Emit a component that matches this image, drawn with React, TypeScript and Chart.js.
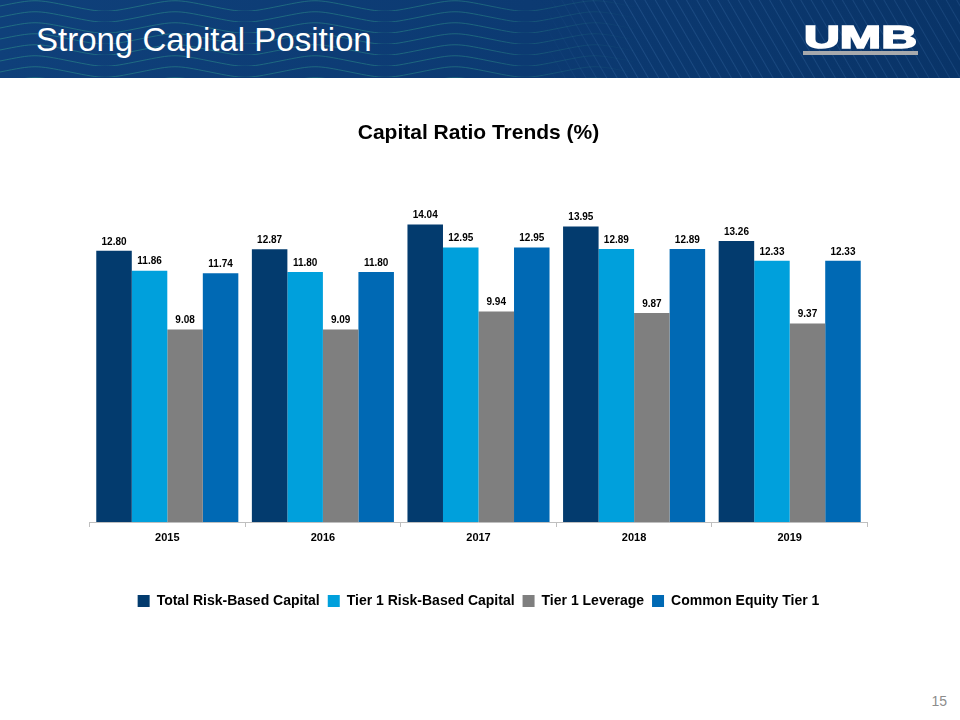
import React, { useEffect, useRef } from "react";
import { Chart, registerables } from "chart.js";

Chart.register(...registerables);

const categories = ["2015", "2016", "2017", "2018", "2019"];
const totalRiskBased = [12.8, 12.87, 14.04, 13.95, 13.26];
const tier1RiskBased = [11.86, 11.8, 12.95, 12.89, 12.33];
const tier1Leverage = [9.08, 9.09, 9.94, 9.87, 9.37];
const commonEquityTier1 = [11.74, 11.8, 12.95, 12.89, 12.33];
const seriesNames = [
  "Total Risk-Based Capital",
  "Tier 1 Risk-Based Capital",
  "Tier 1 Leverage",
  "Common Equity Tier 1",
];
const seriesColors = ["#033b6e", "#00a0dc", "#7f7f7f", "#0069b4"];
const chartTitle = "Capital Ratio Trends (%)";
const slideTitle = "Strong Capital Position";
const pageNumber = "15";

const FONT = "Arial, 'Liberation Sans', sans-serif";

const dataLabelPlugin = {
  id: "dataLabels",
  afterDatasetsDraw(chart: any) {
    const ctx = chart.ctx;
    ctx.save();
    ctx.font = `bold 10px ${FONT}`;
    ctx.fillStyle = "#000000";
    ctx.textAlign = "center";
    ctx.textBaseline = "bottom";
    chart.data.datasets.forEach((ds: any, di: number) => {
      const meta = chart.getDatasetMeta(di);
      meta.data.forEach((el: any, i: number) => {
        const v = ds.data[i] as number;
        ctx.fillText(v.toFixed(2), el.x, el.y - 4);
      });
    });
    ctx.restore();
  },
};

function CapitalChart() {
  const ref = useRef<HTMLCanvasElement | null>(null);
  useEffect(() => {
    if (!ref.current) return;
    const values = [totalRiskBased, tier1RiskBased, tier1Leverage, commonEquityTier1];
    const chart = new Chart(ref.current, {
      type: "bar",
      data: {
        labels: categories,
        datasets: values.map((d, i) => ({
          label: seriesNames[i],
          data: d,
          backgroundColor: seriesColors[i],
          borderWidth: 0,
          categoryPercentage: 0.913,
          barPercentage: 1.0,
        })),
      },
      options: {
        animation: false,
        responsive: false,
        maintainAspectRatio: false,
        layout: { padding: { left: 89.5, right: 92.5, top: 0, bottom: 12 } },
        plugins: {
          title: {
            display: true,
            text: chartTitle,
            color: "#000000",
            font: { family: FONT, size: 21, weight: "bold", lineHeight: 1.2 },
            padding: { top: 30.4, bottom: 37.4 },
          },
          legend: {
            display: true,
            position: "bottom",
            labels: {
              boxWidth: 12,
              boxHeight: 12,
              padding: 8,
              color: "#000000",
              font: { family: FONT, size: 14, weight: "bold" },
            },
          },
          tooltip: { enabled: false },
        },
        scales: {
          x: {
            offset: true,
            grid: {
              display: true,
              offset: true,
              drawOnChartArea: false,
              drawTicks: true,
              tickLength: 5,
              color: "#bfbfbf",
            },
            border: { display: true, color: "#bfbfbf", width: 1 },
            ticks: {
              color: "#000000",
              padding: 4,
              font: { family: FONT, size: 11, weight: "bold" },
            },
            afterFit: (scale: any) => {
              scale.height = 64;
            },
          },
          y: {
            display: false,
            min: 0,
            max: 16,
          },
        },
      },
      plugins: [dataLabelPlugin],
    });
    return () => chart.destroy();
  }, []);
  return (
    <canvas
      ref={ref}
      width={960}
      height={540}
      style={{ position: "absolute", left: 0, top: 90, width: 960, height: 540 }}
    />
  );
}

function Header() {
  return (
    <div
      style={{
        position: "absolute",
        left: 0,
        top: 0,
        width: 960,
        height: 78,
        overflow: "hidden",
        background: "linear-gradient(90deg, #0f407a 0%, #0c3a72 55%, #093468 100%)",
      }}
    >
      <svg width={960} height={78} style={{ position: "absolute", left: 0, top: 0 }}>
        <defs>
          <pattern id="waves" width="140" height="11" patternUnits="userSpaceOnUse">
            <path
              d="M0 6 C35 -1, 35 -1, 70 6 S105 13, 140 6"
              fill="none"
              stroke="#34a58e"
              strokeWidth="0.9"
            />
          </pattern>
          <pattern
            id="diag"
            width="9"
            height="9"
            patternUnits="userSpaceOnUse"
            patternTransform="rotate(-30)"
          >
            <line x1="0" y1="0" x2="0" y2="9" stroke="#4f86c2" strokeWidth="1" />
          </pattern>
          <linearGradient id="fadeW" x1="0" x2="1" y1="0" y2="0">
            <stop offset="0" stopColor="#fff" stopOpacity="0.5" />
            <stop offset="0.75" stopColor="#fff" stopOpacity="0.45" />
            <stop offset="1" stopColor="#fff" stopOpacity="0" />
          </linearGradient>
          <mask id="maskW">
            <rect x="0" y="0" width="640" height="78" fill="url(#fadeW)" />
          </mask>
          <linearGradient id="fadeD" x1="0" x2="1" y1="0" y2="0">
            <stop offset="0" stopColor="#fff" stopOpacity="0" />
            <stop offset="0.2" stopColor="#fff" stopOpacity="0.5" />
            <stop offset="1" stopColor="#fff" stopOpacity="0.4" />
          </linearGradient>
          <mask id="maskD">
            <rect x="540" y="0" width="420" height="78" fill="url(#fadeD)" />
          </mask>
        </defs>
        <rect x="0" y="0" width="640" height="78" fill="url(#waves)" mask="url(#maskW)" />
        <rect x="540" y="0" width="420" height="78" fill="url(#diag)" mask="url(#maskD)" />
      </svg>
      <div
        style={{
          position: "absolute",
          left: 36,
          top: 23,
          fontFamily: FONT,
          fontSize: 33,
          lineHeight: "33px",
          color: "#ffffff",
          whiteSpace: "nowrap",
        }}
      >
        {slideTitle}
      </div>
      <div
        style={{
          position: "absolute",
          left: 804,
          top: 22,
          fontFamily: FONT,
          fontSize: 31,
          fontWeight: 700,
          lineHeight: "31px",
          color: "#ffffff",
          WebkitTextStroke: "1.6px #ffffff",
          transform: "scaleX(1.6)",
          transformOrigin: "left top",
          whiteSpace: "nowrap",
        }}
      >
        UMB
      </div>
      <div
        style={{
          position: "absolute",
          left: 803,
          top: 51,
          width: 115,
          height: 4,
          background: "#a7a9ac",
        }}
      />
    </div>
  );
}

export default function App() {
  return (
    <div
      style={{
        position: "fixed",
        left: 0,
        top: 0,
        width: 960,
        height: 720,
        background: "#ffffff",
        overflow: "hidden",
        fontFamily: FONT,
      }}
    >
      <Header />
      <CapitalChart />
      <div
        style={{
          position: "absolute",
          right: 13,
          top: 692,
          fontFamily: FONT,
          fontSize: 14,
          lineHeight: "18px",
          color: "#8c8c8c",
        }}
      >
        {pageNumber}
      </div>
    </div>
  );
}
